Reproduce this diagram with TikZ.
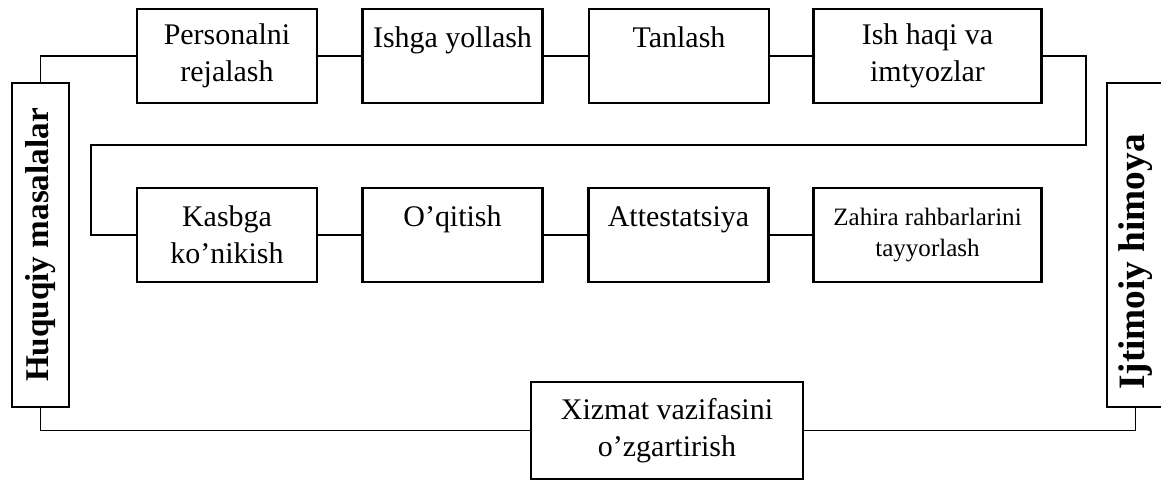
\documentclass[tikz,border=0pt]{standalone}
\usepackage{fontspec}
\setmainfont{Liberation Serif}

\begin{document}
\begin{tikzpicture}[x=0.025cm, y=-0.025cm,
  stage/.style={draw, line width=1.9pt, minimum width=4.5cm, minimum height=2.35cm,
    inner sep=0pt, align=center, font=\fontsize{21.3}{26.3}\selectfont},
  side/.style={draw, line width=1.9pt, minimum width=8.1cm, minimum height=1.425cm,
    inner sep=0pt, rotate=90, font=\bfseries\fontsize{23.6}{28}\selectfont},
  link/.style={line width=1pt}]
  \useasboundingbox (0,0) rectangle (1161,481);
  \clip (0,0) rectangle (1161,481);

  % top row
  \node[stage] (plan) at (227,56) {Personalni\\rejalash};
  \node[stage] (hire) at (452.5,56) {Ishga yollash\\\mbox{}};
  \node[stage] (select) at (679,56) {Tanlash\\\mbox{}};
  \node[stage, minimum width=5.7cm] (pay) at (927.5,56) {Ish haqi va\\imtyozlar};

  % second row
  \node[stage] (adapt) at (227,235) {Kasbga\\ko’nikish};
  \node[stage] (train) at (452.5,235) {O’qitish\\\mbox{}};
  \node[stage] (attest) at (678.5,235) {Attestatsiya\\\mbox{}};
  \node[stage, minimum width=5.7cm, font=\fontsize{17.8}{22}\selectfont] (reserve) at (927.5,235) {Zahira rahbarlarini\\tayyorlash};

  % bottom box
  \node[stage, minimum width=6.8cm, minimum height=2.43cm] (change) at (667,430.5) {Xizmat vazifasini\\o’zgartirish};

  % side boxes
  \node[side] (legal) at (40.5,245) {Huquqiy masalalar};
  \node[side, font=\bfseries\fontsize{26.5}{31}\selectfont] (social) at (1135.5,245) {Ijtimoiy himoya\hspace*{0.85cm}};

  % connectors
  \coordinate (rturn) at (1086,145);
  \coordinate (lturn) at (91,145);
  \draw[link] (plan.east) -- (hire.west);
  \draw[link] (hire.east) -- (select.west);
  \draw[link] (select.east) -- (pay.west);
  \draw[link] (pay.east) -| (rturn) -- (lturn) |- (adapt.west);
  \draw[link] (adapt.east) -- (train.west);
  \draw[link] (train.east) -- (attest.west);
  \draw[link] (attest.east) -- (reserve.west);
  \draw[link] (legal.east) |- (plan.west);
  \draw[link] (legal.west) |- (change.west);
  \draw[link] (social.west) |- (change.east);
\end{tikzpicture}
\end{document}
